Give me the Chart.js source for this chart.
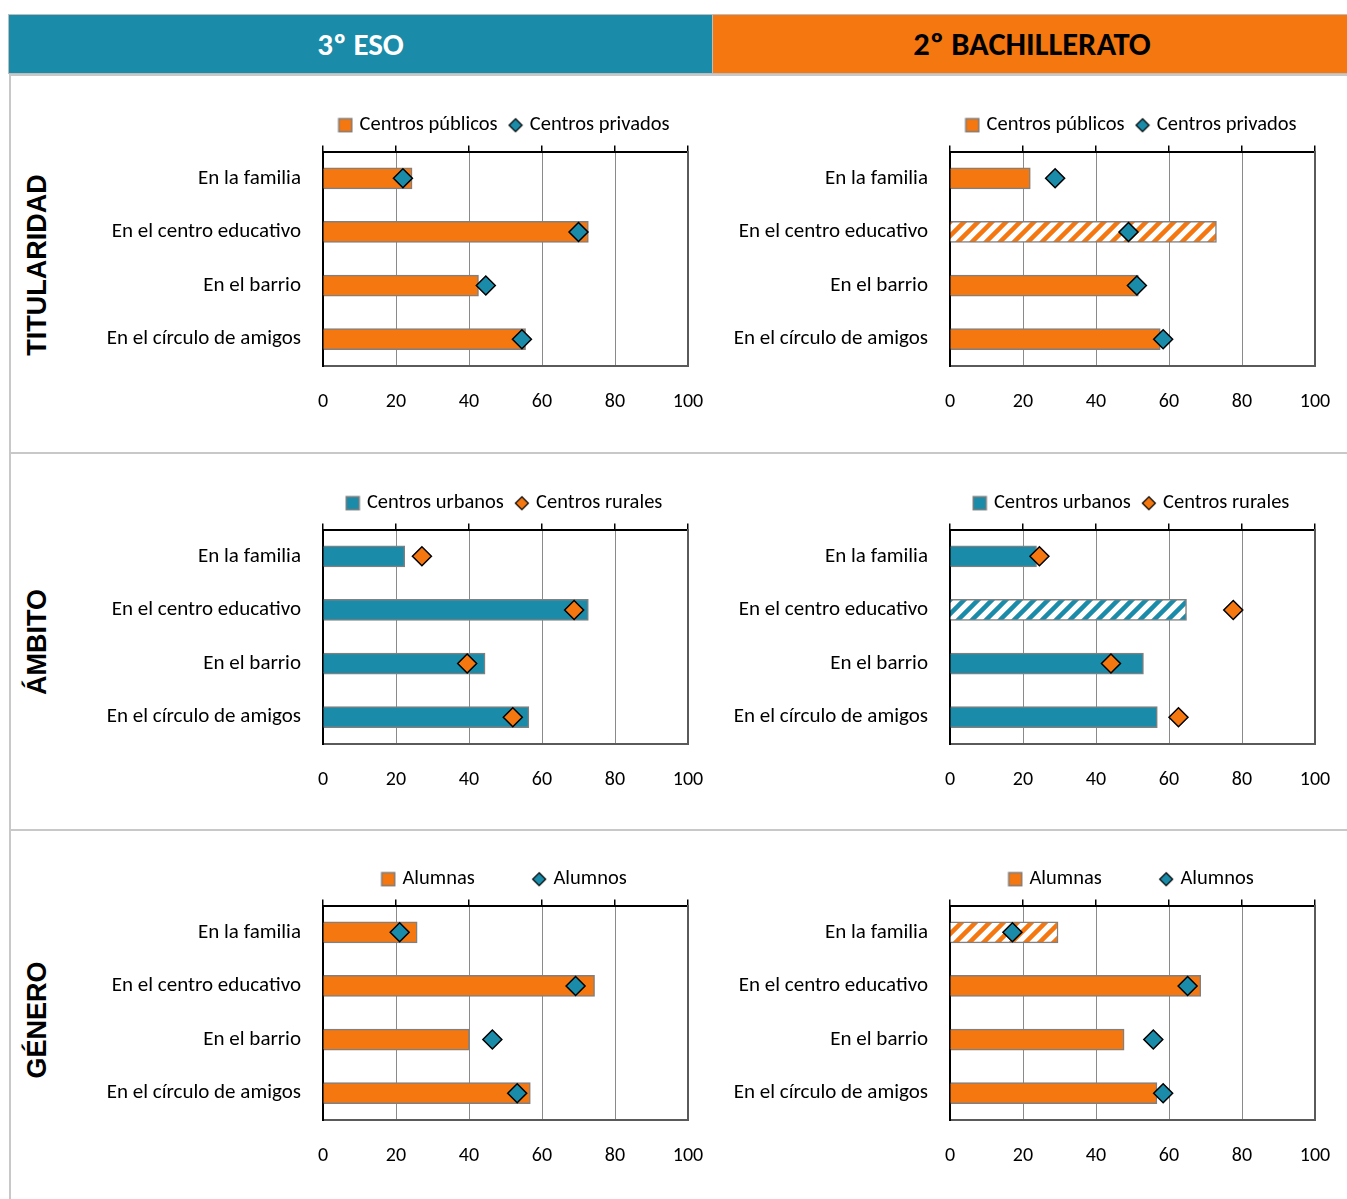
<!DOCTYPE html>
<html>
<head>
<meta charset="utf-8">
<script src="https://cdn.jsdelivr.net/npm/chart.js@4.4.1/dist/chart.umd.min.js"></script>
<style>
  body { margin: 0; background: #fff; width: 1347px; height: 1199px; position: relative; overflow: hidden; font-family: Carlito, Lato, sans-serif; }
  .hdr { position: absolute; top: 14px; height: 60px; box-sizing: border-box; border: 1px solid #bdbdbd; display: flex; align-items: center; justify-content: center; font-weight: bold; font-size: 31px; }
  #h1 { left: 8px; width: 705px; background: #1a8ba8; color: #fff; }
  #h2 { left: 712px; width: 640px; background: #f47710; color: #000; font-size: 32.5px; }
  .sep { position: absolute; left: 9px; right: 0; height: 2px; background: #c8c8c8; }
  .vline { position: absolute; left: 9px; top: 74px; width: 2px; height: 1130px; background: #c8c8c8; }
  .rowlab { position: absolute; left: 37px; font-family: 'Liberation Sans', Arial, sans-serif; font-weight: bold; font-size: 27px; transform: translate(-50%, -50%) rotate(-90deg); white-space: nowrap; color: #000; }
  canvas { position: absolute; }
</style>
</head>
<body>
<div class="hdr" id="h1">3º ESO</div>
<div class="hdr" id="h2">2º BACHILLERATO</div>
<div class="sep" style="top:74px"></div>
<div class="sep" style="top:452px"></div>
<div class="sep" style="top:829px"></div>
<div class="vline"></div>
<div class="rowlab" style="top:265px">TITULARIDAD</div>
<div class="rowlab" style="top:642px">ÁMBITO</div>
<div class="rowlab" style="top:1020px">GÉNERO</div>

<canvas id="c1" width="640" height="324" style="left:80px;top:101px"></canvas>
<canvas id="c2" width="640" height="324" style="left:707px;top:101px"></canvas>
<canvas id="c3" width="640" height="324" style="left:80px;top:479px"></canvas>
<canvas id="c4" width="640" height="324" style="left:707px;top:479px"></canvas>
<canvas id="c5" width="640" height="324" style="left:80px;top:855px"></canvas>
<canvas id="c6" width="640" height="324" style="left:707px;top:855px"></canvas>

<script>
const categories = ['En la familia', 'En el centro educativo', 'En el barrio', 'En el círculo de amigos'];
const xTicks = [0, 20, 40, 60, 80, 100];

// TITULARIDAD
const titEsoPublicos = [24.4, 72.7, 42.6, 55.5];
const titEsoPrivados = [21.9, 70.0, 44.6, 54.5];
const titBachPublicos = [22.0, 73.0, 51.6, 57.6];
const titBachPrivados = [28.8, 48.9, 51.2, 58.4];
// ÁMBITO
const ambEsoUrbanos = [22.4, 72.7, 44.4, 56.4];
const ambEsoRurales = [27.1, 68.8, 39.5, 52.0];
const ambBachUrbanos = [23.7, 64.8, 53.0, 56.8];
const ambBachRurales = [24.5, 77.6, 44.1, 62.6];
// GÉNERO
const genEsoAlumnas = [25.8, 74.4, 40.1, 56.8];
const genEsoAlumnos = [21.0, 69.2, 46.4, 53.2];
const genBachAlumnas = [29.6, 68.7, 47.7, 56.7];
const genBachAlumnos = [17.1, 65.1, 55.7, 58.4];

const ORANGE = '#f47710';
const TEAL = '#1a8ba8';

Chart.defaults.font.family = 'Carlito, Lato, sans-serif';
Chart.defaults.color = '#000';

function hatch(color) {
  const s = 14;
  const c = document.createElement('canvas');
  c.width = c.height = s;
  const g = c.getContext('2d');
  g.fillStyle = '#fff';
  g.fillRect(0, 0, s, s);
  g.strokeStyle = color;
  g.lineWidth = 4.5;
  g.beginPath();
  g.moveTo(-2, s + 2); g.lineTo(s + 2, -2);
  g.moveTo(-2, 2); g.lineTo(2, -2);
  g.moveTo(s - 2, s + 2); g.lineTo(s + 2, s - 2);
  g.stroke();
  return g.createPattern(c, 'repeat');
}

// small legend markers
function legendIcon(kind, color) {
  const c = document.createElement('canvas');
  c.width = c.height = 16;
  const g = c.getContext('2d');
  g.fillStyle = color;
  if (kind === 'rect') {
    g.strokeStyle = '#7f7f7f'; g.lineWidth = 1.5;
    g.fillRect(1.5, 1.5, 13, 13); g.strokeRect(1.5, 1.5, 13, 13);
  } else {
    g.strokeStyle = '#000'; g.lineWidth = 1.2;
    g.beginPath(); g.moveTo(8, 1.5); g.lineTo(14.5, 8); g.lineTo(8, 14.5); g.lineTo(1.5, 8); g.closePath();
    g.fill(); g.stroke();
  }
  return c;
}

function makeChart(id, barLabel, barData, dotLabel, dotData, barColor, dotColor, hatchIndex, gap) {
  const ctx = document.getElementById(id).getContext('2d');
  const pat = hatch(barColor);
  new Chart(ctx, {
    data: {
      labels: categories,
      datasets: [
        {
          type: 'bar',
          label: barLabel,
          data: barData,
          backgroundColor: barData.map((v, i) => i === hatchIndex ? pat : barColor),
          borderColor: '#808080',
          borderWidth: 1.5,
          barThickness: 21,
          order: 2,
          xAxisID: 'x', yAxisID: 'y',
          icon: legendIcon('rect', barColor)
        },
        {
          type: 'line',
          label: dotLabel,
          data: dotData,
          indexAxis: 'y',
          showLine: false,
          pointStyle: 'rectRot',
          pointRadius: 9.5,
          pointHoverRadius: 9.5,
          pointBackgroundColor: dotColor,
          pointBorderColor: '#000',
          pointBorderWidth: 1.5,
          order: 1,
          xAxisID: 'x', yAxisID: 'y',
          icon: legendIcon('diamond', dotColor)
        }
      ]
    },
    options: {
      indexAxis: 'y',
      responsive: false,
      animation: false,
      events: [],
      layout: { padding: { left: 0, right: 32, top: 0, bottom: 0 } },
      plugins: {
        tooltip: { enabled: false },
        legend: {
          position: 'top',
          fullSize: false,
          labels: {
            usePointStyle: true,
            boxWidth: 8, boxHeight: 12,
            padding: 14,
            color: '#000',
            font: { size: 20.5 },
            generateLabels: chart => chart.data.datasets.map((ds, i) => ({
              text: i === 0 ? ds.label + ' '.repeat(gap) : ds.label,
              pointStyle: ds.icon,
              fillStyle: 'transparent',
              strokeStyle: 'transparent',
              lineWidth: 0,
              hidden: false,
              datasetIndex: i,
              fontColor: '#000'
            }))
          }
        }
      },
      scales: {
        x: {
          type: 'linear', position: 'bottom', min: 0, max: 100,
          afterBuildTicks: s => { s.ticks = xTicks.map(v => ({ value: v })); },
          ticks: { padding: 2, color: '#000', font: { size: 20 } },
          grid: { color: '#8a8a8a', lineWidth: 1, drawTicks: true, tickLength: 22, tickColor: 'rgba(0,0,0,0)' },
          border: { color: '#5a5a5a', width: 2 },
          afterFit: s => { s.height = 59; }
        },
        x2: {
          type: 'linear', position: 'top', min: 0, max: 100,
          afterBuildTicks: s => { s.ticks = xTicks.map(v => ({ value: v })); },
          ticks: { display: false },
          grid: { drawOnChartArea: false, drawTicks: true, tickLength: 6, color: '#000', lineWidth: 1.5 },
          border: { color: '#000', width: 2 },
          afterFit: s => { s.height = 6; }
        },
        y: {
          type: 'category', position: 'left', offset: true,
          grid: { display: false, drawTicks: false },
          border: { color: '#000', width: 2 },
          ticks: { color: '#000', padding: 22, font: { size: 21 } },
          afterFit: s => { s.width = 243; }
        },
        y2: {
          type: 'category', position: 'right', offset: true,
          grid: { display: false, drawTicks: false },
          border: { color: '#5a5a5a', width: 2 },
          ticks: { display: false },
          afterFit: s => { s.width = 0; }
        }
      }
    }
  });
}

makeChart('c1', 'Centros públicos', titEsoPublicos, 'Centros privados', titEsoPrivados, ORANGE, TEAL, -1, 0);
makeChart('c2', 'Centros públicos', titBachPublicos, 'Centros privados', titBachPrivados, ORANGE, TEAL, 1, 0);
makeChart('c3', 'Centros urbanos', ambEsoUrbanos, 'Centros rurales', ambEsoRurales, TEAL, ORANGE, -1, 0);
makeChart('c4', 'Centros urbanos', ambBachUrbanos, 'Centros rurales', ambBachRurales, TEAL, ORANGE, 1, 0);
makeChart('c5', 'Alumnas', genEsoAlumnas, 'Alumnos', genEsoAlumnos, ORANGE, TEAL, -1, 10);
makeChart('c6', 'Alumnas', genBachAlumnas, 'Alumnos', genBachAlumnos, ORANGE, TEAL, 0, 10);
</script>
</body>
</html>
